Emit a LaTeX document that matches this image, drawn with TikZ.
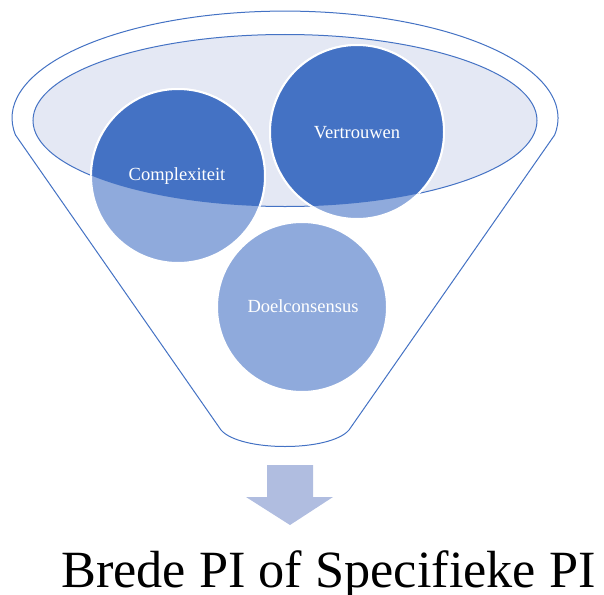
\documentclass[tikz,border=0pt]{standalone}
\usepackage{fontspec}
\setmainfont{Liberation Serif}
\definecolor{darkblue}{HTML}{4472C4}
\definecolor{lightblue}{HTML}{8FAADC}
\definecolor{paleblue}{HTML}{E4E8F4}
\definecolor{arrowblue}{HTML}{B0BDE0}
\tikzset{
  outline/.style={draw=darkblue, line width=1pt},
  bubble/.style={circle, fill=lightblue, draw=white, line width=2pt, minimum size=174pt, inner sep=0pt},
  bubbletext/.style={text=white, font=\fontsize{18.5}{20}\selectfont, inner sep=0pt, anchor=base},
}
\begin{document}
\begin{tikzpicture}[x=1pt,y=-1pt]
\path[use as bounding box] (0,0) rectangle (604,594);
% funnel outline
\draw[outline, fill=white] (15.5,135) arc[start angle=170.9, end angle=369.1, x radius=273, y radius=107]
  -- (349,430) .. controls (330,452) and (240,452) .. (221,430) -- cycle;
% inner ellipse
\draw[outline, fill=paleblue] (285,120.5) ellipse [x radius=252, y radius=86];
% circles (light part)
\node[bubble] (c1) at (178,176) {};
\node[bubble] (c2) at (357,132) {};
\node[bubble, minimum size=170pt] (c3) at (302,307) {};
% dark parts inside the inner ellipse
\begin{scope}
  \clip (285,120.5) ellipse [x radius=252, y radius=86];
  \fill[darkblue, draw=white, line width=2pt] (c1.center) circle[radius=87];
  \fill[darkblue, draw=white, line width=2pt] (c2.center) circle[radius=87];
\end{scope}
% labels
\node[bubbletext] (t1) at (177,180) {Complexiteit};
\node[bubbletext] (t2) at (357,138) {Vertrouwen};
\node[bubbletext] (t3) at (303,312) {Doelconsensus};
% arrow
\fill[arrowblue] (267,465) -- (313,465) -- (313,497) -- (333,497) -- (290,525) -- (246,497) -- (267,497) -- cycle;
% result text
\node[anchor=base west, inner sep=0pt, font=\fontsize{52.3}{60}\selectfont] (res) at (61,587) {Brede PI of Specifieke PI};
\end{tikzpicture}
\end{document}
